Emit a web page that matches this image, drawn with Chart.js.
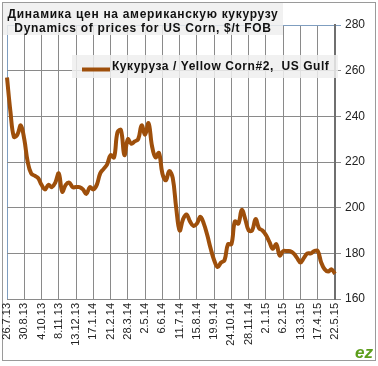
<!DOCTYPE html>
<html>
<head>
<meta charset="utf-8">
<script src="https://cdn.jsdelivr.net/npm/chart.js@4"></script>
<style>
  html, body { margin: 0; padding: 0; background: #fff; }
  #wrap { width: 378px; height: 366px; }
</style>
</head>
<body>
<div id="wrap"><canvas id="chart" width="378" height="366"></canvas></div>
<script>
// tick labels, one every 5 weeks
const tickLabels = ['26.7.13', '30.8.13', '4.10.13', '8.11.13', '13.12.13', '17.1.14', '21.2.14',
  '28.3.14', '2.5.14', '6.6.14', '11.7.14', '15.8.14', '19.9.14', '24.10.14', '28.11.14',
  '2.1.15', '6.2.15', '13.3.15', '17.4.15', '22.5.15'];

// weekly prices, $/t FOB
const prices = [
  257, 242, 231, 232, 236, 230, 220, 215, 214, 213,
  210, 208, 210, 209, 211, 215, 207, 210, 211, 209,
  209, 209, 208, 206, 209, 208, 210, 215, 217, 219,
  223, 222, 233, 234, 223, 230, 228, 229, 230, 236,
  232, 237, 227, 222, 224, 215, 212, 216, 213, 200,
  190, 195, 197, 194, 192, 193, 196, 193, 188, 182,
  177, 174, 176, 177, 184, 184, 194, 193, 199, 195,
  190, 190, 195, 191, 190, 188, 185, 182, 184, 179,
  181, 181, 181, 180, 178, 176, 178, 180, 180, 181,
  181, 176, 173, 172, 173, 171
];

const yTicks = [160, 180, 200, 220, 240, 260, 280];

const titleLines = ['Динамика цен на американскую кукурузу', 'Dynamics of prices for US Corn, $/t FOB'];
const seriesName = 'Кукуруза / Yellow Corn#2,  US Gulf';

const lineColor = '#9e4f0b';
const gridColor = '#8a8a8a';
const edgeColor = '#7f9ec0';
const font = '"Liberation Sans", Arial, sans-serif';

// рамка, заголовок, легенда
const decor = {
  id: 'decor',
  beforeDraw(chart) {
    const c = chart.ctx;
    c.save();
    c.fillStyle = '#fff';
    c.fillRect(0, 0, chart.width, chart.height);
    c.strokeStyle = '#9a9a9a';
    c.lineWidth = 1;
    c.strokeRect(2.5, 2.5, 373, 358);
    c.restore();
  },
  afterDraw(chart) {
    const c = chart.ctx;
    c.save();
    // title box
    c.fillStyle = 'rgba(238,238,238,0.85)';
    c.fillRect(3, 3, 280, 32);
    c.fillStyle = '#111';
    c.font = 'bold 12px ' + font;
    c.letterSpacing = '0.7px';
    c.textAlign = 'center';
    c.textBaseline = 'middle';
    c.fillText(titleLines[0], 143, 15);
    c.fillText(titleLines[1], 143, 29);

    // legend box
    c.fillStyle = 'rgba(238,238,238,0.85)';
    c.fillRect(72, 55, 266, 23);
    c.strokeStyle = lineColor;
    c.lineWidth = 4;
    c.beginPath();
    c.moveTo(82, 69.5);
    c.lineTo(110, 69.5);
    c.stroke();
    c.fillStyle = '#111';
    c.letterSpacing = '0.55px';
    c.textAlign = 'left';
    c.fillText(seriesName, 112, 67);

    // логотип
    c.letterSpacing = '0px';
    c.font = 'italic bold 17px ' + font;
    c.fillStyle = '#5c9e1c';
    c.textAlign = 'right';
    c.textBaseline = 'alphabetic';
    c.fillText('ez', 373, 358);
    c.restore();
  }
};

new Chart(document.getElementById('chart'), {
  type: 'line',
  data: {
    labels: prices.map((_, i) => i),
    datasets: [{
      label: seriesName,
      data: prices,
      borderColor: lineColor,
      borderWidth: 4,
      pointRadius: 0,
      tension: 0.4,
      fill: false
    }]
  },
  options: {
    responsive: false,
    animation: false,
    layout: { padding: { left: 7, top: 25, right: 0, bottom: 0 } },
    plugins: {
      legend: { display: false },
      tooltip: { enabled: false }
    },
    scales: {
      x: {
        offset: false,
        afterFit: function(scale) { scale.height = 67; },
        grid: {
          color: ctx => ctx.index === 0 ? edgeColor : gridColor,
          lineWidth: 1,
          drawTicks: false
        },
        border: { color: gridColor },
        ticks: {
          autoSkip: false,
          maxRotation: 90,
          minRotation: 90,
          padding: 4,
          color: '#222',
          font: { family: font, size: 11 },
          callback: function(value, index) {
            return index % 5 === 0 ? tickLabels[index / 5] : null;
          }
        }
      },
      y: {
        position: 'right',
        min: yTicks[0],
        max: yTicks[yTicks.length - 1],
        afterFit: function(scale) { scale.width = 43; },
        afterBuildTicks: function(scale) { scale.ticks = yTicks.map(v => ({ value: v })); },
        grid: {
          color: ctx => ctx.tick && ctx.tick.value === 280 ? edgeColor : gridColor,
          lineWidth: 1,
          tickLength: 6
        },
        border: { color: '#6f6f6f', width: 2 },
        ticks: {
          padding: 4,
          color: '#222',
          font: { family: font, size: 12 }
        }
      }
    }
  },
  plugins: [decor]
});
</script>
</body>
</html>
